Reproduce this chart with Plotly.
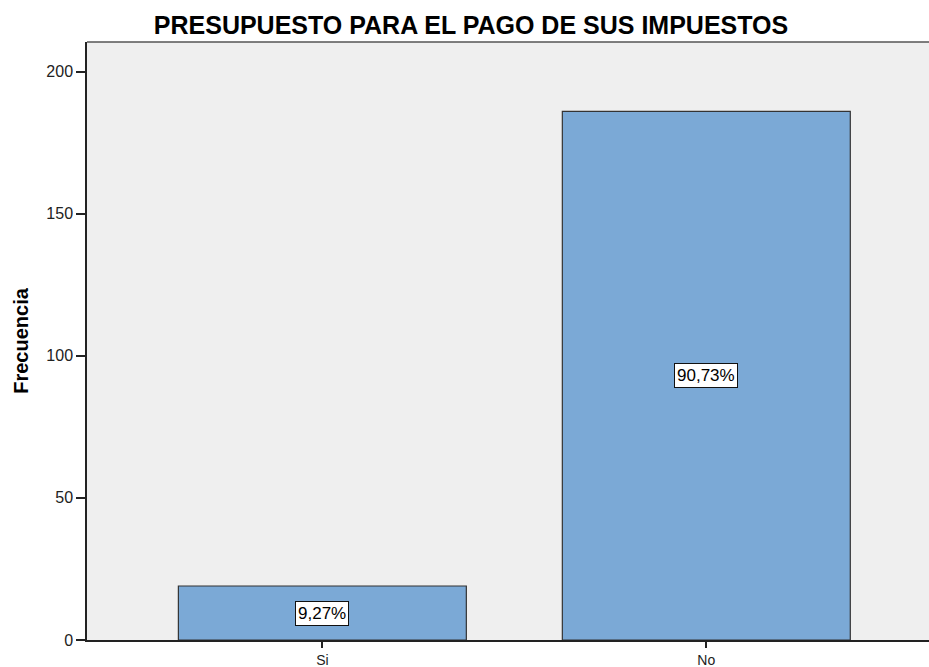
import plotly.graph_objects as go

categories = ["Si", "No"]
counts = [19, 186]
percent_labels = ["9,27%", "90,73%"]
title_text = "PRESUPUESTO PARA EL PAGO DE SUS IMPUESTOS"
y_title = "Frecuencia"
y_ticks = [0, 50, 100, 150, 200]

FONT = "Liberation Sans, Arial"

fig = go.Figure()
fig.add_trace(go.Bar(
    x=categories, y=counts, width=0.75,
    marker=dict(color="#7BA9D6", line=dict(color="#333333", width=1.2)),
    hoverinfo="skip",
))

for c, v, t in zip(categories, counts, percent_labels):
    fig.add_annotation(
        x=c, y=v / 2, text=t, showarrow=False,
        bgcolor="white", bordercolor="#111111", borderwidth=1, borderpad=2,
        font=dict(family=FONT, size=17, color="black"),
    )

fig.add_shape(type="line", xref="paper", yref="paper", x0=0, x1=1, y0=1, y1=1,
              line=dict(color="#555555", width=1.5))

fig.update_layout(
    width=929, height=667,
    margin=dict(l=87, r=0, t=42, b=27),
    paper_bgcolor="white", plot_bgcolor="#EFEFEF",
    title=dict(text="<b>" + title_text + "</b>", x=471 / 929, xanchor="center",
               y=1 - 25 / 667, yanchor="middle",
               font=dict(family=FONT, size=25, color="black")),
    showlegend=False,
    font=dict(family=FONT, size=16, color="#222222"),
)
fig.update_xaxes(
    range=[-0.613, 1.58], showgrid=False, zeroline=False, automargin=False,
    showline=True, linecolor="#222222", linewidth=1.5,
    ticks="outside", ticklen=6, tickcolor="#222222", tickwidth=1.5,
    ticklabelstandoff=0,
    tickfont=dict(family=FONT, size=14, color="#222222"),
)
fig.update_yaxes(
    range=[0, 210.4], tickvals=y_ticks, showgrid=False, zeroline=False, automargin=False,
    showline=True, linecolor="#222222", linewidth=1.5,
    ticks="outside", ticklen=9, tickcolor="#222222", tickwidth=1.5,
    tickfont=dict(family=FONT, size=16, color="#222222"),
    title=dict(text="<b>" + y_title + "</b>", standoff=12,
               font=dict(family=FONT, size=20, color="black")),
)

fig.write_html("out.html", config={"displayModeBar": False},
               post_script="document.body.style.margin='0';document.body.style.overflow='hidden';")
